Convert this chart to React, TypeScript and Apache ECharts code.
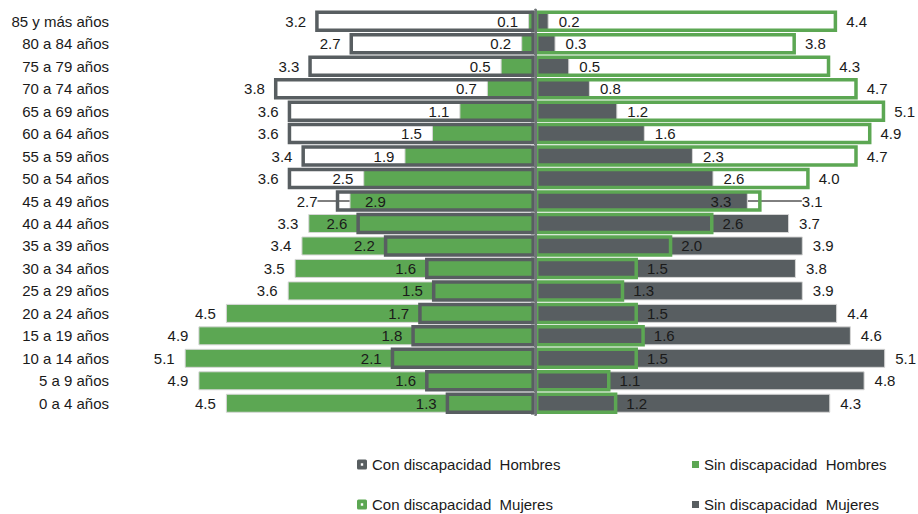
import React, { useEffect, useRef } from "react";
import * as echarts from "echarts";

const categories = [
  "85 y más años", "80 a 84 años", "75 a 79 años", "70 a 74 años", "65 a 69 años",
  "60 a 64 años", "55 a 59 años", "50 a 54 años", "45 a 49 años", "40 a 44 años",
  "35 a 39 años", "30 a 34 años", "25 a 29 años", "20 a 24 años", "15 a 19 años",
  "10 a 14 años", "5 a 9 años", "0 a 4 años",
];
const conHombres = [3.2, 2.7, 3.3, 3.8, 3.6, 3.6, 3.4, 3.6, 2.9, 2.6, 2.2, 1.6, 1.5, 1.7, 1.8, 2.1, 1.6, 1.3];
const sinHombres = [0.1, 0.2, 0.5, 0.7, 1.1, 1.5, 1.9, 2.5, 2.7, 3.3, 3.4, 3.5, 3.6, 4.5, 4.9, 5.1, 4.9, 4.5];
const conMujeres = [4.4, 3.8, 4.3, 4.7, 5.1, 4.9, 4.7, 4.0, 3.3, 2.6, 2.0, 1.5, 1.3, 1.5, 1.6, 1.5, 1.1, 1.2];
const sinMujeres = [0.2, 0.3, 0.5, 0.8, 1.2, 1.6, 2.3, 2.6, 3.1, 3.7, 3.9, 3.8, 3.9, 4.4, 4.6, 5.1, 4.8, 4.3];
const seriesNames = [
  "Con discapacidad  Hombres",
  "Sin discapacidad  Hombres",
  "Con discapacidad  Mujeres",
  "Sin discapacidad  Mujeres",
];
// category whose labels were moved by hand in the original
const movedLabelIndex = 8;

const GREEN = "#5ca753";
const GRAY = "#585e61";
const TEXT = "#1a1a1a";
const FONT = "'Liberation Sans', Arial, sans-serif";
const FS = 15;
const RING_ICON = "path://M1.5,0H8.5Q10,0 10,1.5V8.5Q10,10 8.5,10H1.5Q0,10 0,8.5V1.5Q0,0 1.5,0Z M3.8,3.8V6.2H6.2V3.8Z";

const fmt = (p: any) => Math.abs(Number(p.value)).toFixed(1);

export default function App() {
  const ref = useRef<HTMLDivElement>(null);
  useEffect(() => {
    if (!ref.current) return;
    const chart = echarts.init(ref.current, null, { renderer: "svg" });
    const labelBase = { show: true, formatter: fmt, color: TEXT, fontSize: FS, fontFamily: FONT };
    const lineStyle = { color: "#000", width: 1 };
    const mk = (arr: number[], sign: number) =>
      arr.map((v, i) =>
        i === movedLabelIndex ? { value: sign * v, labelLine: { show: true, lineStyle } } : sign * v
      );
    const legendItem = (name: string, left: number, top: number, icon: string, size: number, itemStyle: any) => ({
      orient: "horizontal",
      left,
      top,
      padding: 0,
      itemWidth: size,
      itemHeight: size,
      itemGap: 4,
      selectedMode: false,
      textStyle: { fontSize: FS, color: TEXT, fontFamily: FONT },
      data: [{ name, icon, itemStyle }],
    });
    const option: any = {
      animation: false,
      grid: { left: 116, right: 6, top: 10, height: 404.5, containLabel: false },
      xAxis: { type: "value", min: -6.1, max: 5.49, show: false },
      yAxis: [
        {
          type: "category",
          data: categories,
          inverse: true,
          position: "left",
          axisLine: { show: false, onZero: false },
          axisTick: { show: false },
          axisLabel: { fontSize: FS, color: TEXT, fontFamily: FONT, margin: 7 },
        },
        {
          type: "category",
          data: categories,
          inverse: true,
          position: "left",
          z: 5,
          axisLine: {
            show: true,
            onZero: true,
            onZeroAxisIndex: 0,
            lineStyle: { color: "#707578", width: 3 },
          },
          axisTick: { show: true, length: 4, lineStyle: { color: "#9ea2a4", width: 1 } },
          axisLabel: { show: false },
        },
      ],
      legend: [
        legendItem(seriesNames[0], 357, 457, RING_ICON, 10, { color: GRAY, borderWidth: 0 }),
        legendItem(seriesNames[2], 357, 497, RING_ICON, 10, { color: GREEN, borderWidth: 0 }),
        legendItem(seriesNames[1], 692, 457, "rect", 7, { color: GREEN, borderWidth: 0 }),
        legendItem(seriesNames[3], 692, 497, "rect", 7, { color: GRAY, borderWidth: 0 }),
      ],
      series: [
        {
          name: seriesNames[1],
          type: "bar",
          yAxisIndex: 0,
          stack: "sin",
          barWidth: 19,
          itemStyle: { color: GREEN, borderColor: "#d6d6d6", borderWidth: 1 },
          label: { ...labelBase, position: "left", distance: 10 },
          labelLine: { show: false, lineStyle },
          labelLayout: (p: any) => (p.dataIndex === movedLabelIndex ? { dx: -22 } : {}),
          data: mk(sinHombres, -1),
        },
        {
          name: seriesNames[3],
          type: "bar",
          yAxisIndex: 0,
          stack: "sin",
          barWidth: 19,
          itemStyle: { color: GRAY, borderColor: "#d6d6d6", borderWidth: 1 },
          label: { ...labelBase, position: "right", distance: 10 },
          labelLine: { show: false, lineStyle },
          labelLayout: (p: any) => (p.dataIndex === movedLabelIndex ? { dx: 44 } : {}),
          data: mk(sinMujeres, 1),
        },
        {
          name: seriesNames[0],
          type: "bar",
          yAxisIndex: 1,
          stack: "con",
          barWidth: 21.5,
          itemStyle: { color: "rgba(255,255,255,0)", borderColor: GRAY, borderWidth: 3.5 },
          label: { ...labelBase, position: "left", distance: 9 },
          labelLayout: (p: any) => (p.dataIndex === movedLabelIndex ? { dx: 59 } : {}),
          data: conHombres.map((v) => -v),
        },
        {
          name: seriesNames[2],
          type: "bar",
          yAxisIndex: 1,
          stack: "con",
          barWidth: 21.5,
          itemStyle: { color: "rgba(255,255,255,0)", borderColor: GREEN, borderWidth: 3.5 },
          label: { ...labelBase, position: "right", distance: 9 },
          labelLayout: (p: any) => (p.dataIndex === movedLabelIndex ? { dx: -60 } : {}),
          data: conMujeres,
        },
      ],
    };
    chart.setOption(option);
    return () => chart.dispose();
  }, []);
  return (
    <div
      ref={ref}
      style={{ position: "fixed", left: 0, top: 0, width: 918, height: 514, background: "#fff" }}
    />
  );
}
